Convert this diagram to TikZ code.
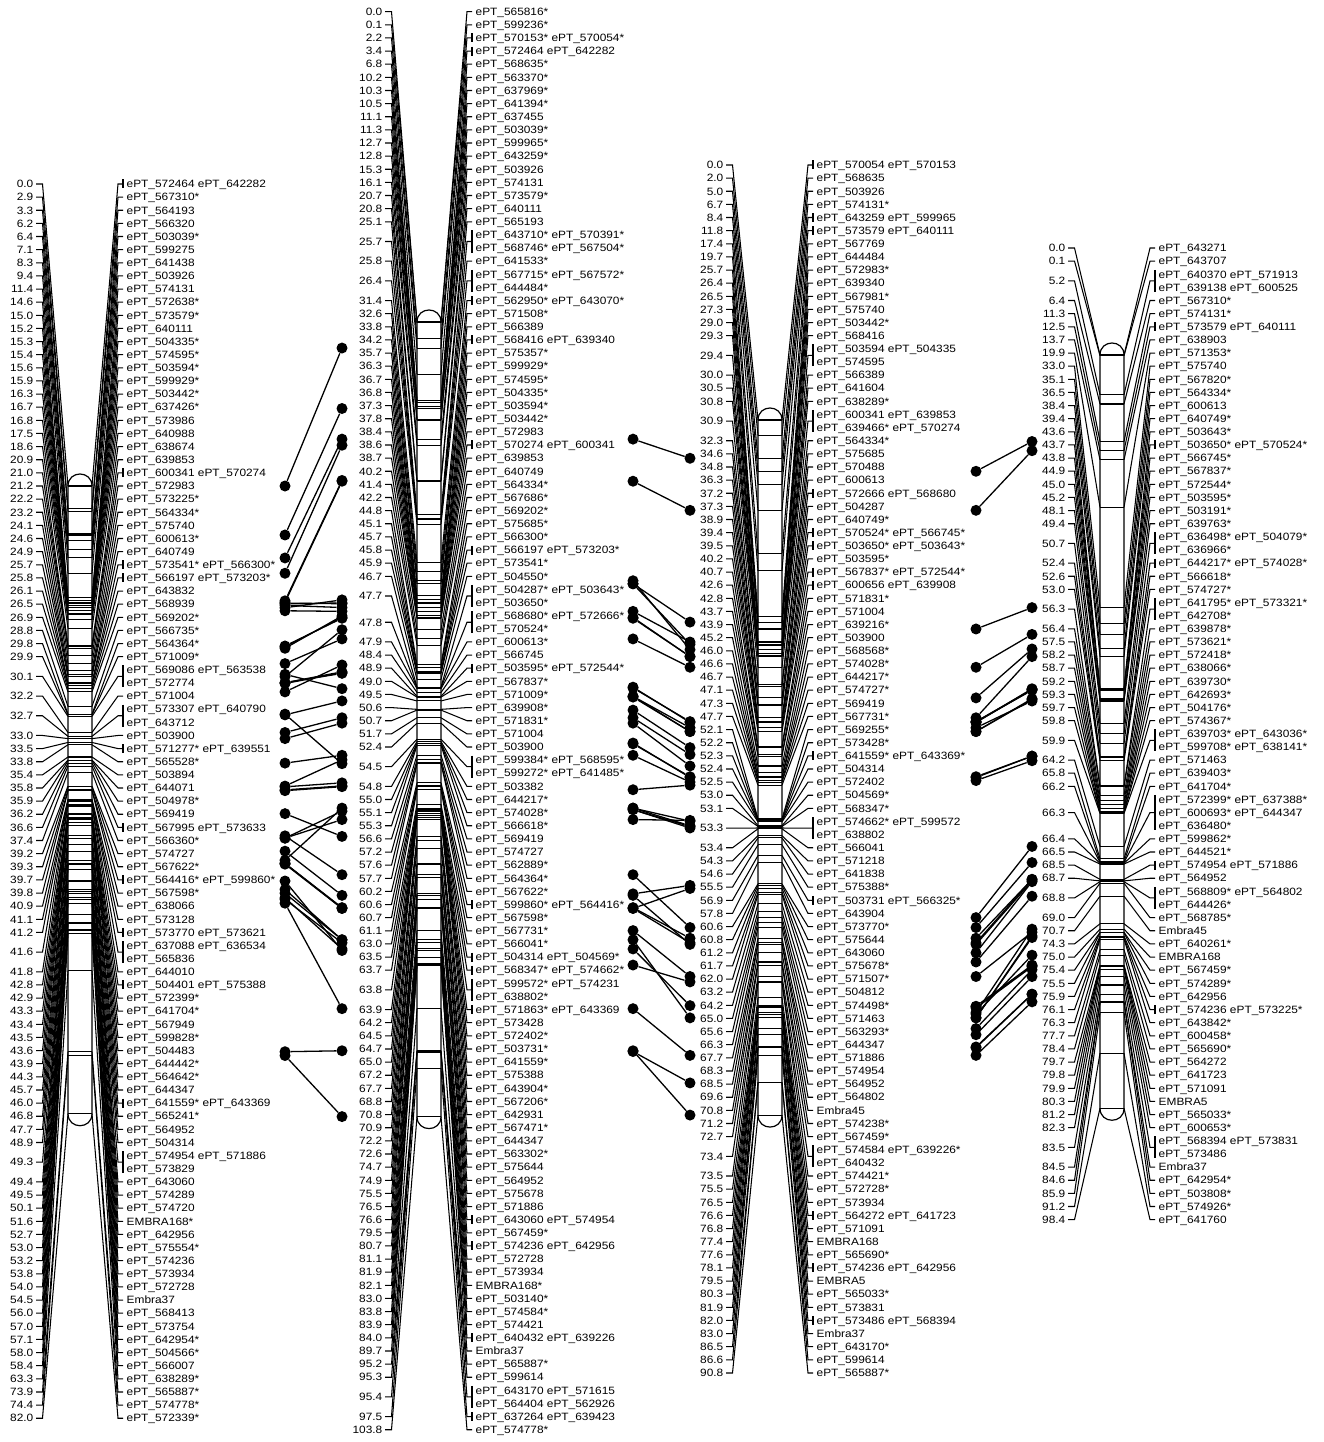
\documentclass[tikz,border=0pt]{standalone}
\usepackage{fontspec}
\setmainfont{Liberation Sans}[FakeStretch=1.12]
\newcommand\E{ePT\_}
\newcounter{rc}
\tikzset{
  fanline/.style={line width=1.05pt},
  barline/.style={line width=1.05pt},
  barout/.style={line width=1.2pt},
  connline/.style={line width=1.3pt},
  cdot/.style={circle,fill=black,draw=none,inner sep=0pt,minimum size=11pt},
  numlab/.style={anchor=base east,inner sep=0pt,font=\fontsize{10.6}{12}\selectfont},
  mklab/.style={anchor=base west,inner sep=0pt,font=\fontsize{10.6}{12}\selectfont},
}
% #1 bar left x, #2 first row y, #3 bar 0cM y, #4 max cM, #5 list, #6 prefix
\newcommand\drawLG[6]{%
  \setcounter{rc}{0}%
  \foreach \cm/\nr/\mf/\tx in #5 {%
    \edef\st{\the\value{rc}}%
    \pgfmathsetmacro\yc{#2+(\st+(\nr-1)/2)*13.13}%
    \pgfmathsetmacro\yb{#3+\cm*7.655}%
    \draw[fanline] (#1-32,\yc) -- (#1-25.5,\yc) -- (#1,\yb);
    \draw[fanline] (#1+24,\yb) -- (#1+50,\yc) -- (#1+55,\yc);
    \draw[barline] (#1,\yb) -- (#1+24,\yb);
    \node[numlab] (#6n\st) at (#1-34.5,\yc+3.75) {\cm};
    \ifnum\mf=1
      \draw[fanline] (#1+55,{#2+\st*13.13-4.5}) -- (#1+55,{#2+(\st+\nr-1)*13.13+4.5});
    \fi
    \foreach \lx [count=\kk from 0] in \tx {%
      \node[mklab] (#6m\st x\kk) at (#1+58.5,{#2+(\st+\kk)*13.13+3.75}) {\lx};
    }%
    \addtocounter{rc}{\nr}%
  }%
  \pgfmathsetmacro\yE{#3+#4*7.655}%
  \draw[barout] (#1,#3) -- (#1,\yE) .. controls (#1,\yE+16) and (#1+24,\yE+16) .. (#1+24,\yE)
     -- (#1+24,#3) .. controls (#1+24,#3-16) and (#1,#3-16) .. (#1,#3) -- cycle;
}
% #1 xL, #2 bar0 left, #3 xR, #4 bar0 right, #5 list, #6 prefix
\newcommand\drawConn[6]{%
  \foreach \p/\q [count=\ci] in #5 {%
    \node[cdot] (#6a\ci) at (#1,{#2+\p*7.655}) {};
    \node[cdot] (#6b\ci) at (#3,{#4+\q*7.655}) {};
    \draw[connline] (#6a\ci) -- (#6b\ci);
  }%
}
\def\LGa{0.0/1/1/{\E572464 \E642282},2.9/1/0/\E567310*,3.3/1/0/\E564193,6.2/1/0/\E566320,6.4/1/0/\E503039*,7.1/1/0/\E599275,8.3/1/0/\E641438,9.4/1/0/\E503926,11.4/1/0/\E574131,14.6/1/0/\E572638*,15.0/1/0/\E573579*,15.2/1/0/\E640111,15.3/1/0/\E504335*,15.4/1/0/\E574595*,15.6/1/0/\E503594*,15.9/1/0/\E599929*,16.3/1/0/\E503442*,16.7/1/0/\E637426*,16.8/1/0/\E573986,17.5/1/0/\E640988,18.6/1/0/\E638674,20.9/1/0/\E639853,21.0/1/1/{\E600341 \E570274},21.2/1/0/\E572983,22.2/1/0/\E573225*,23.2/1/0/\E564334*,24.1/1/0/\E575740,24.6/1/0/\E600613*,24.9/1/0/\E640749,25.7/1/1/{\E573541* \E566300*},25.8/1/1/{\E566197 \E573203*},26.1/1/0/\E643832,26.5/1/0/\E568939,26.9/1/0/\E569202*,28.8/1/0/\E566735*,29.8/1/0/\E564364*,29.9/1/0/\E571009*,30.1/2/1/{\E569086 \E563538,\E572774},32.2/1/0/\E571004,32.7/2/1/{\E573307 \E640790,\E643712},33.0/1/0/\E503900,33.5/1/1/{\E571277* \E639551},33.8/1/0/\E565528*,35.4/1/0/\E503894,35.8/1/0/\E644071,35.9/1/0/\E504978*,36.2/1/0/\E569419,36.6/1/1/{\E567995 \E573633},37.4/1/0/\E566360*,39.2/1/0/\E574727,39.3/1/0/\E567622*,39.7/1/1/{\E564416* \E599860*},39.8/1/0/\E567598*,40.9/1/0/\E638066,41.1/1/0/\E573128,41.2/1/1/{\E573770 \E573621},41.6/2/1/{\E637088 \E636534,\E565836},41.8/1/0/\E644010,42.8/1/1/{\E504401 \E575388},42.9/1/0/\E572399*,43.3/1/0/\E641704*,43.4/1/0/\E567949,43.5/1/0/\E599828*,43.6/1/0/\E504483,43.9/1/0/\E644442*,44.3/1/0/\E564642*,45.7/1/0/\E644347,46.0/1/1/{\E641559* \E643369},46.8/1/0/\E565241*,47.7/1/0/\E564952,48.9/1/0/\E504314,49.3/2/1/{\E574954 \E571886,\E573829},49.4/1/0/\E643060,49.5/1/0/\E574289,50.1/1/0/\E574720,51.6/1/0/EMBRA168*,52.7/1/0/\E642956,53.0/1/0/\E575554*,53.2/1/0/\E574236,53.8/1/0/\E573934,54.0/1/0/\E572728,54.5/1/0/Embra37,56.0/1/0/\E568413,57.0/1/0/\E573754,57.1/1/0/\E642954*,58.0/1/0/\E504566*,58.4/1/0/\E566007,63.3/1/0/\E638289*,73.9/1/0/\E565887*,74.4/1/0/\E574778*,82.0/1/0/\E572339*}
\def\LGb{0.0/1/0/\E565816*,0.1/1/0/\E599236*,2.2/1/1/{\E570153* \E570054*},3.4/1/1/{\E572464 \E642282},6.8/1/0/\E568635*,10.2/1/0/\E563370*,10.3/1/0/\E637969*,10.5/1/0/\E641394*,11.1/1/0/\E637455,11.3/1/0/\E503039*,12.7/1/0/\E599965*,12.8/1/0/\E643259*,15.3/1/0/\E503926,16.1/1/0/\E574131,20.7/1/0/\E573579*,20.8/1/0/\E640111,25.1/1/0/\E565193,25.7/2/1/{\E643710* \E570391*,\E568746* \E567504*},25.8/1/0/\E641533*,26.4/2/1/{\E567715* \E567572*,\E644484*},31.4/1/1/{\E562950* \E643070*},32.6/1/0/\E571508*,33.8/1/0/\E566389,34.2/1/1/{\E568416 \E639340},35.7/1/0/\E575357*,36.3/1/0/\E599929*,36.7/1/0/\E574595*,36.8/1/0/\E504335*,37.3/1/0/\E503594*,37.8/1/0/\E503442*,38.4/1/0/\E572983,38.6/1/1/{\E570274 \E600341},38.7/1/0/\E639853,40.2/1/0/\E640749,41.4/1/0/\E564334*,42.2/1/0/\E567686*,44.8/1/0/\E569202*,45.1/1/0/\E575685*,45.7/1/0/\E566300*,45.8/1/1/{\E566197 \E573203*},45.9/1/0/\E573541*,46.7/1/0/\E504550*,47.7/2/1/{\E504287* \E503643*,\E503650*},47.8/2/1/{\E568680* \E572666*,\E570524*},47.9/1/0/\E600613*,48.4/1/0/\E566745,48.9/1/1/{\E503595* \E572544*},49.0/1/0/\E567837*,49.5/1/0/\E571009*,50.6/1/0/\E639908*,50.7/1/0/\E571831*,51.7/1/0/\E571004,52.4/1/0/\E503900,54.5/2/1/{\E599384* \E568595*,\E599272* \E641485*},54.8/1/0/\E503382,55.0/1/0/\E644217*,55.1/1/0/\E574028*,55.3/1/0/\E566618*,56.6/1/0/\E569419,57.2/1/0/\E574727,57.6/1/0/\E562889*,57.7/1/0/\E564364*,60.2/1/0/\E567622*,60.6/1/1/{\E599860* \E564416*},60.7/1/0/\E567598*,61.1/1/0/\E567731*,63.0/1/0/\E566041*,63.5/1/1/{\E504314 \E504569*},63.7/1/1/{\E568347* \E574662*},63.8/2/1/{\E599572* \E574231,\E638802*},63.9/1/1/{\E571863* \E643369},64.2/1/0/\E573428,64.5/1/0/\E572402*,64.7/1/0/\E503731*,65.0/1/0/\E641559*,67.2/1/0/\E575388,67.7/1/0/\E643904*,68.8/1/0/\E567206*,70.8/1/0/\E642931,70.9/1/0/\E567471*,72.2/1/0/\E644347,72.6/1/0/\E563302*,74.7/1/0/\E575644,74.9/1/0/\E564952,75.5/1/0/\E575678,76.5/1/0/\E571886,76.6/1/1/{\E643060 \E574954},79.5/1/0/\E567459*,80.7/1/1/{\E574236 \E642956},81.1/1/0/\E572728,81.9/1/0/\E573934,82.1/1/0/EMBRA168*,83.0/1/0/\E503140*,83.8/1/0/\E574584*,83.9/1/0/\E574421,84.0/1/1/{\E640432 \E639226},89.7/1/0/Embra37,95.2/1/0/\E565887*,95.3/1/0/\E599614,95.4/2/1/{\E643170 \E571615,\E564404 \E562926},97.5/1/1/{\E637264 \E639423},103.8/1/0/\E574778*}
\def\LGc{0.0/1/1/{\E570054 \E570153},2.0/1/0/\E568635,5.0/1/0/\E503926,6.7/1/0/\E574131*,8.4/1/1/{\E643259 \E599965},11.8/1/1/{\E573579 \E640111},17.4/1/0/\E567769,19.7/1/0/\E644484,25.7/1/0/\E572983*,26.4/1/0/\E639340,26.5/1/0/\E567981*,27.3/1/0/\E575740,29.0/1/0/\E503442*,29.3/1/0/\E568416,29.4/2/1/{\E503594 \E504335,\E574595},30.0/1/0/\E566389,30.5/1/0/\E641604,30.8/1/0/\E638289*,30.9/2/1/{\E600341 \E639853,\E639466* \E570274},32.3/1/0/\E564334*,34.6/1/0/\E575685,34.8/1/0/\E570488,36.3/1/0/\E600613,37.2/1/1/{\E572666 \E568680},37.3/1/0/\E504287,38.9/1/0/\E640749*,39.4/1/1/{\E570524* \E566745*},39.5/1/1/{\E503650* \E503643*},40.2/1/0/\E503595*,40.7/1/1/{\E567837* \E572544*},42.6/1/1/{\E600656 \E639908},42.8/1/0/\E571831*,43.7/1/0/\E571004,43.9/1/0/\E639216*,45.2/1/0/\E503900,46.0/1/0/\E568568*,46.6/1/0/\E574028*,46.7/1/0/\E644217*,47.1/1/0/\E574727*,47.3/1/0/\E569419,47.7/1/0/\E567731*,52.1/1/0/\E569255*,52.2/1/0/\E573428*,52.3/1/1/{\E641559* \E643369*},52.4/1/0/\E504314,52.5/1/0/\E572402,53.0/1/0/\E504569*,53.1/1/0/\E568347*,53.3/2/1/{\E574662* \E599572,\E638802},53.4/1/0/\E566041,54.3/1/0/\E571218,54.6/1/0/\E641838,55.5/1/0/\E575388*,56.9/1/1/{\E503731 \E566325*},57.8/1/0/\E643904,60.6/1/0/\E573770*,60.8/1/0/\E575644,61.2/1/0/\E643060,61.7/1/0/\E575678*,62.0/1/0/\E571507*,63.2/1/0/\E504812,64.2/1/0/\E574498*,65.0/1/0/\E571463,65.6/1/0/\E563293*,66.3/1/0/\E644347,67.7/1/0/\E571886,68.3/1/0/\E574954,68.5/1/0/\E564952,69.6/1/0/\E564802,70.8/1/0/Embra45,71.2/1/0/\E574238*,72.7/1/0/\E567459*,73.4/2/1/{\E574584 \E639226*,\E640432},73.5/1/0/\E574421*,75.5/1/0/\E572728*,76.5/1/0/\E573934,76.6/1/1/{\E564272 \E641723},76.8/1/0/\E571091,77.4/1/0/EMBRA168,77.6/1/0/\E565690*,78.1/1/1/{\E574236 \E642956},79.5/1/0/EMBRA5,80.3/1/0/\E565033*,81.9/1/0/\E573831,82.0/1/1/{\E573486 \E568394},83.0/1/0/Embra37,86.5/1/0/\E643170*,86.6/1/0/\E599614,90.8/1/0/\E565887*}
\def\LGd{0.0/1/0/\E643271,0.1/1/0/\E643707,5.2/2/1/{\E640370 \E571913,\E639138 \E600525},6.4/1/0/\E567310*,11.3/1/0/\E574131*,12.5/1/1/{\E573579 \E640111},13.7/1/0/\E638903,19.9/1/0/\E571353*,33.0/1/0/\E575740,35.1/1/0/\E567820*,36.5/1/0/\E564334*,38.4/1/0/\E600613,39.4/1/0/\E640749*,43.6/1/0/\E503643*,43.7/1/1/{\E503650* \E570524*},43.8/1/0/\E566745*,44.9/1/0/\E567837*,45.0/1/0/\E572544*,45.2/1/0/\E503595*,48.1/1/0/\E503191*,49.4/1/0/\E639763*,50.7/2/1/{\E636498* \E504079*,\E636966*},52.4/1/1/{\E644217* \E574028*},52.6/1/0/\E566618*,53.0/1/0/\E574727*,56.3/2/1/{\E641795* \E573321*,\E642708*},56.4/1/0/\E639878*,57.5/1/0/\E573621*,58.2/1/0/\E572418*,58.7/1/0/\E638066*,59.2/1/0/\E639730*,59.3/1/0/\E642693*,59.7/1/0/\E504176*,59.8/1/0/\E574367*,59.9/2/1/{\E639703* \E643036*,\E599708* \E638141*},64.2/1/0/\E571463,65.8/1/0/\E639403*,66.2/1/0/\E641704*,66.3/3/1/{\E572399* \E637388*,\E600693* \E644347,\E636480*},66.4/1/0/\E599862*,66.5/1/0/\E644521*,68.5/1/1/{\E574954 \E571886},68.7/1/0/\E564952,68.8/2/1/{\E568809* \E564802,\E644426*},69.0/1/0/\E568785*,70.7/1/0/Embra45,74.3/1/0/\E640261*,75.0/1/0/EMBRA168,75.4/1/0/\E567459*,75.5/1/0/\E574289*,75.9/1/0/\E642956,76.1/1/1/{\E574236 \E573225*},76.3/1/0/\E643842*,77.7/1/0/\E600458*,78.4/1/0/\E565690*,79.7/1/0/\E564272,79.8/1/0/\E641723,79.9/1/0/\E571091,80.3/1/0/EMBRA5,81.2/1/0/\E565033*,82.3/1/0/\E600653*,83.5/2/1/{\E568394 \E573831,\E573486},84.5/1/0/Embra37,84.6/1/0/\E642954*,85.9/1/0/\E503808*,91.2/1/0/\E574926*,98.4/1/0/\E641760}
\def\CA{0.0/3.4,6.4/11.3,9.4/15.3,11.4/16.1,15.0/20.7,15.2/20.8,15.3/36.8,15.4/36.7,15.6/37.3,15.9/36.3,16.3/37.8,20.9/38.7,21.0/38.6,21.2/38.4,23.2/41.4,24.6/47.9,24.9/40.2,25.7/45.9,25.7/45.7,25.8/45.8,26.9/44.8,29.8/57.7,29.9/49.5,32.2/51.7,33.0/52.4,36.2/56.6,39.2/57.2,39.3/60.2,39.7/60.6,39.8/60.7,42.8/67.2,45.7/72.2,46.0/65.0,46.0/63.9,47.7/74.9,48.9/63.5,49.3/76.6,49.3/76.5,49.4/76.6,51.6/82.1,52.7/80.7,53.2/80.7,53.8/81.9,54.0/81.1,54.5/89.7,73.9/95.2,74.4/103.8}
\def\CB{15.3/5.0,20.8/11.8,34.2/26.4,37.8/29.0,34.2/29.3,33.8/30.0,38.6/30.9,38.7/30.9,41.4/32.3,47.8/39.4,47.7/39.5,48.9/40.2,49.0/40.7,48.9/40.7,50.7/42.8,51.7/43.7,52.4/45.2,55.1/46.6,55.0/46.7,56.6/47.3,61.1/47.7,65.0/52.3,63.5/52.4,63.5/53.0,63.7/53.1,63.7/53.3,74.7/60.8,76.6/61.2,72.2/66.3,76.5/67.7,76.6/68.3,74.9/68.5,79.5/72.7,84.0/73.4,81.9/76.5,80.7/78.1,89.7/83.0,95.3/86.6,95.2/90.8}
\def\CC{6.7/11.3,11.8/12.5,27.3/33.0,32.3/36.5,36.3/38.4,38.9/39.4,39.4/43.7,39.4/43.8,39.5/43.7,39.5/43.6,40.2/45.2,40.7/44.9,40.7/45.0,46.6/52.4,46.7/52.4,47.1/53.0,65.0/64.2,66.3/66.3,67.7/68.5,68.3/68.5,68.5/68.7,69.6/68.8,70.8/70.7,72.7/75.4,76.6/79.7,76.6/79.8,76.8/79.9,77.4/75.0,77.6/78.4,78.1/76.1,78.1/75.9,79.5/80.3,80.3/81.2,81.9/83.5,82.0/83.5,83.0/84.5}
\begin{document}
\begin{tikzpicture}[x=1pt,y=-1pt]
\useasboundingbox (0,0) rectangle (1324,1442);
\drawLG{68}{184}{486}{82.0}{\LGa}{A}
\drawLG{417}{11.7}{322}{103.8}{\LGb}{B}
\drawLG{758}{165}{420}{90.8}{\LGc}{C}
\drawLG{1100}{248}{355}{98.4}{\LGd}{D}
\drawConn{285}{486}{342}{322}{\CA}{P}
\drawConn{633}{322}{690}{420}{\CB}{Q}
\drawConn{976}{420}{1032}{355}{\CC}{R}
\end{tikzpicture}
\end{document}
